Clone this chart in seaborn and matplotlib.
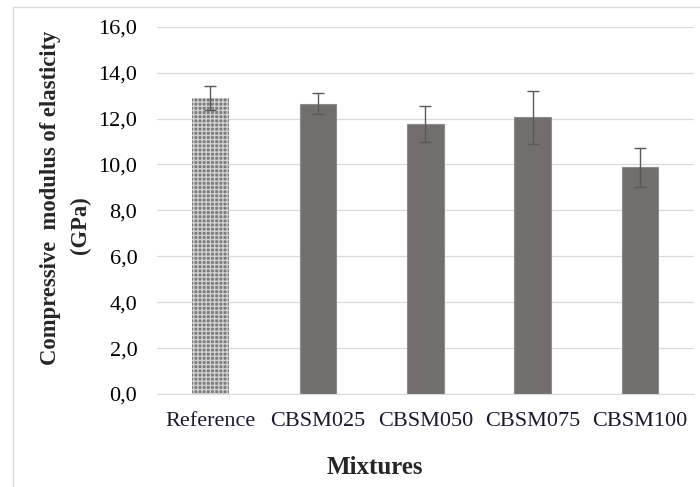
import matplotlib
matplotlib.use("Agg")
import matplotlib.pyplot as plt
import seaborn as sns
import pandas as pd
from matplotlib.patches import Rectangle
from matplotlib.ticker import FuncFormatter

# data
mixtures = ["Reference", "CBSM025", "CBSM050", "CBSM075", "CBSM100"]
modulus = [12.90, 12.65, 11.76, 12.06, 9.87]
std_dev = [0.53, 0.47, 0.79, 1.16, 0.83]

df = pd.DataFrame({"Mixture": mixtures, "Modulus": modulus})

sns.set_style("white")
plt.rcParams["font.family"] = ["Liberation Serif", "DejaVu Serif"]

fig = plt.figure(figsize=(7, 4.87), dpi=100)
ax = fig.add_axes([0.224, 0.191, 0.767, 0.754])

sns.barplot(data=df, x="Mixture", y="Modulus", color="#736e6c",
            width=0.34, errorbar=None, ax=ax, zorder=2)

# reference bar gets the dotted texture
ref = ax.patches[0]
ref.set_facecolor("#7a7a7a")
ref.set_hatch("++++")
ref.set_edgecolor("#d0d0d0")
ref.set_linewidth(0)
for p in ax.patches[1:]:
    p.set_edgecolor("#8f8b89")
    p.set_linewidth(0.8)

ax.errorbar(range(len(mixtures)), modulus, yerr=std_dev, fmt="none",
            ecolor="#595959", elinewidth=1, capsize=4, capthick=1, zorder=3)

ax.set_ylim(0, 16)
ax.set_yticks(range(0, 17, 2))
ax.yaxis.set_major_formatter(FuncFormatter(lambda v, _: f"{v:.1f}".replace(".", ",")))
ax.grid(axis="y", color="#d9d9d9", linewidth=0.9, zorder=0)
ax.set_axisbelow(True)
for s in ["left", "right", "top"]:
    ax.spines[s].set_visible(False)
ax.spines["bottom"].set_color("#d9d9d9")
ax.tick_params(axis="both", length=0, labelsize=16, colors="black")
ax.tick_params(axis="y", pad=14)
ax.tick_params(axis="x", pad=13)
for lbl in ax.get_xticklabels():
    lbl.set_color("#1a1a2e")
ax.set_xlim(-0.5, 4.5)

ax.set_xlabel("")
ax.set_ylabel("")
# y title is two separately placed lines, as in the original
fig.text(51 / 700, 1 - 198 / 487, "Compressive  modulus of elasticity",
         rotation=90, ha="center", va="center", fontsize=16.3, fontweight="bold")
fig.text(80 / 700, 1 - 225 / 487, "(GPa)",
         rotation=90, ha="center", va="center", fontsize=16.3, fontweight="bold")
fig.text(0.536, 1 - 468 / 487, "Mixtures", ha="center", va="center",
         fontsize=18, fontweight="bold")

# light frame around the chart area
fig.patches.append(Rectangle((13 / 700, -0.1), 1.2, 1 - 7 / 487 + 0.1,
                             transform=fig.transFigure, fill=False,
                             edgecolor="#d9d9d9", linewidth=1))

fig.savefig("out.png", dpi=100)
